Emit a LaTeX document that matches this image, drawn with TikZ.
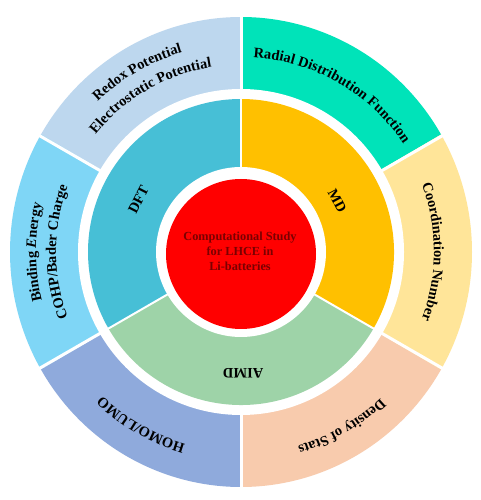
\documentclass[tikz,border=0pt]{standalone}
\usepackage{fontspec}
\setmainfont{Liberation Serif}
\usetikzlibrary{calc,decorations.text}
\definecolor{cRedox}{HTML}{BDD7EE}
\definecolor{cBinding}{HTML}{7FD6F6}
\definecolor{cHomo}{HTML}{8FAADC}
\definecolor{cDensity}{HTML}{F8CBAD}
\definecolor{cCoord}{HTML}{FFE599}
\definecolor{cRadial}{HTML}{00E3B9}
\definecolor{cDFT}{HTML}{47BFD6}
\definecolor{cMD}{HTML}{FFC000}
\definecolor{cAIMD}{HTML}{9ED3A8}
\definecolor{cCore}{HTML}{FF0000}
\definecolor{cCoreText}{HTML}{7A0000}
\newcommand\segfont{\fontsize{14.5}{17}\selectfont\bfseries}
\begin{document}
\begin{tikzpicture}[x=1pt,y=1pt,
  curvedtext/.style={decorate,decoration={text along path,text align=center,text={#1}}},
  sepline/.style={draw=white,line width=3pt},
  midsep/.style={draw=white,line width=2pt},
  midlabel/.style={font=\segfont,text=black}]
\useasboundingbox (0,0) rectangle (481,500);
\fill[white] (0,0) rectangle (481,500);
\coordinate (C) at (241,248);
% outer ring
\fill[cRadial]  (C) -- ++(30:231 and 235)  arc[start angle=30,end angle=90,x radius=231,y radius=235] -- cycle;
\fill[cRedox]   (C) -- ++(90:231 and 235)  arc[start angle=90,end angle=150,x radius=231,y radius=235] -- cycle;
\fill[cBinding] (C) -- ++(150:231 and 235) arc[start angle=150,end angle=210,x radius=231,y radius=235] -- cycle;
\fill[cHomo]    (C) -- ++(210:231 and 235) arc[start angle=210,end angle=270,x radius=231,y radius=235] -- cycle;
\fill[cDensity] (C) -- ++(270:231 and 235) arc[start angle=270,end angle=330,x radius=231,y radius=235] -- cycle;
\fill[cCoord]   (C) -- ++(-30:231 and 235) arc[start angle=-30,end angle=30,x radius=231,y radius=235] -- cycle;
\fill[white] (C) circle[radius=163];
% middle ring
\fill[cMD]   (C) -- ++(-30:153) arc[start angle=-30,end angle=90,radius=153] -- cycle;
\fill[cDFT]  (C) -- ++(90:153)  arc[start angle=90,end angle=210,radius=153] -- cycle;
\fill[cAIMD] (C) -- ++(210:153) arc[start angle=210,end angle=330,radius=153] -- cycle;
\fill[white] (C) circle[radius=85];
% separators
\foreach \a in {30,90,150,210,270,330}
  \draw[sepline] ($(C)+(\a:160)$) -- ($(C)+(\a:240)$);
\foreach \a in {90,210,330}
  \draw[midsep] ($(C)+(\a:83)$) -- ($(C)+(\a:156)$);
% core
\fill[cCore] ($(C)+(0,-2)$) circle[radius=75];
\node[align=center,text=cCoreText,font=\fontsize{12.3}{15}\selectfont\bfseries] (title) at ($(C)+(-1,1)$) {Computational Study\\for LHCE in\\Li-batteries};
% middle labels
\node[midlabel,rotate=63]  (dft)  at ($(C)+(153:115)$) {DFT};
\node[midlabel,rotate=-62] (md)   at ($(C)+(28:109)$) {MD};
\node[midlabel,rotate=180] (aimd) at ($(C)+(271:121)$) {AIMD};
% outer labels
\path[curvedtext={|\segfont|Redox Potential}] ($(C)+(150:208)$) arc[start angle=150,end angle=90,radius=208];
\path[curvedtext={|\segfont|Electrostatic Potential}] ($(C)+(150:187)$) arc[start angle=150,end angle=90,radius=187];
\path[curvedtext={|\segfont|Radial Distribution Function}] ($(C)+(90:195)$) arc[start angle=90,end angle=30,radius=195];
\path[curvedtext={|\segfont|Coordination Number}] ($(C)+(30:193)$) arc[start angle=30,end angle=-30,radius=193];
\path[curvedtext={|\segfont|Density of Stats}] ($(C)+(330:202)$) arc[start angle=330,end angle=270,radius=202];
\path[curvedtext={|\segfont|HOMO/LUMO}] ($(C)+(270:200)$) arc[start angle=270,end angle=210,radius=200];
\path[curvedtext={|\segfont|Binding |\segfont\itshape|E|\segfont\upshape|nergy}] ($(C)+(210:205)$) arc[start angle=210,end angle=150,radius=205];
\path[curvedtext={|\segfont|COHP/Bader Charge}] ($(C)+(210:185)$) arc[start angle=210,end angle=150,radius=185];
\end{tikzpicture}
\end{document}
